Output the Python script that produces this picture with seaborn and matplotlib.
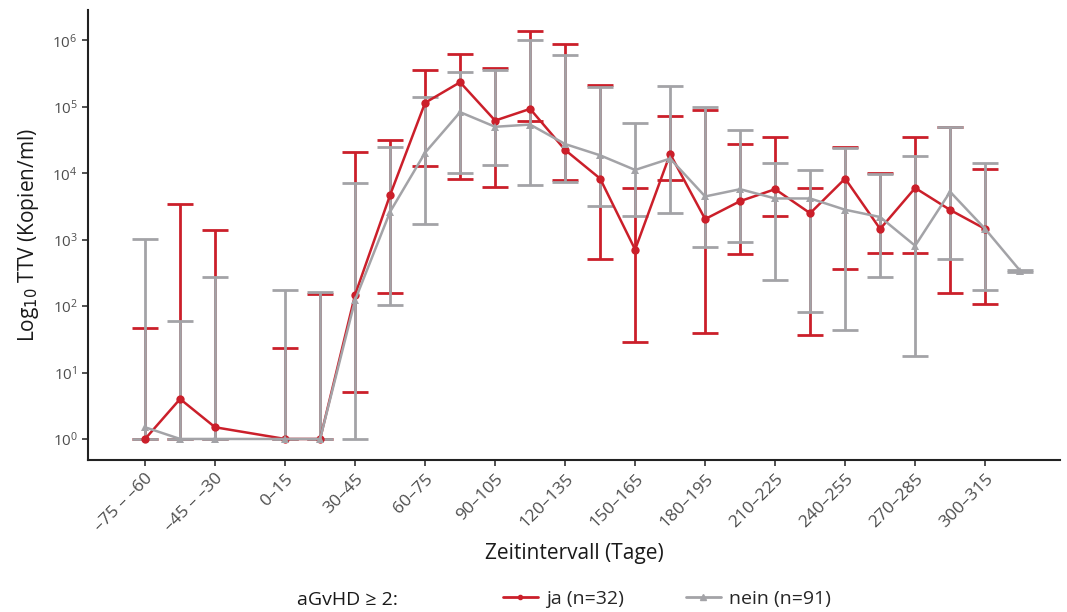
import numpy as np
import pandas as pd
import matplotlib
matplotlib.use("Agg")
import matplotlib.pyplot as plt
from matplotlib.lines import Line2D
import seaborn as sns

# --- data ---
# slot 3 of the axis is empty in the original
categories = ["–75 – –60", "–60 – –45", "–45 – –30", "–30 – 0", "0–15", "15–30", "30–45",
              "45–60", "60–75", "75–90", "90–105", "105–120", "120–135", "135–150",
              "150–165", "165–180", "180–195", "195–210", "210–225", "225–240",
              "240–255", "255–270", "270–285", "285–300", "300–315", "315–330"]
shown_ticks = categories[::2]

intervals = [c for c in categories if c != "–30 – 0"]

ja_median = [1, 4, 1.5, 1, 1, 148, 4700, 115000, 234000, 62000, 93000, 22400, 8300,
             710, 19500, 2040, 3800, 5750, 2500, 8300, 1450, 6000, 2800, 1450, np.nan]
ja_low = [1, 1, 1, 1, 1, 5.1, 160, 12900, 8300, 6300, 62000, 7900, 510,
          29, 7900, 40, 600, 2240, 37, 360, 630, 630, 160, 107, np.nan]
ja_high = [47, 3500, 1400, 23, 150, 21000, 32000, 360000, 630000, 390000, 1380000, 890000, 214000,
           5900, 72000, 89000, 27500, 35500, 6000, 25000, 10200, 35500, 50000, 11700, np.nan]

nein_median = [1.5, 1, 1, 1, 1, 123, 2630, 20400, 83000, 50000, 54000, 27500, 18600,
               11200, 16600, 4470, 5750, 4170, 4170, 2820, 2190, 810, 5250, 1450, 340]
nein_low = [1, 1, 1, 1, 1, 1, 105, 1740, 10000, 13500, 6600, 7400, 3200,
            2240, 2500, 780, 910, 250, 81, 44, 275, 18, 510, 174, 330]
nein_high = [1020, 60, 275, 174, 162, 7200, 25000, 141000, 331000, 355000, 1000000, 600000, 200000,
             57500, 209000, 100000, 44700, 14500, 11000, 24000, 9800, 18200, 50000, 14500, 345]

groups = ["ja", "nein"]
group_labels = ["ja (n=32)", "nein (n=91)"]
RED = "#CB1F2A"
GREY = "#A3A3A7"

pos = {c: i for i, c in enumerate(categories)}
rows = []
for g, med, lo, hi in [("ja", ja_median, ja_low, ja_high),
                       ("nein", nein_median, nein_low, nein_high)]:
    for c, m, l, h in zip(intervals, med, lo, hi):
        if not np.isnan(m):
            rows.append({"gruppe": g, "intervall": c, "x": pos[c], "ttv": m, "lo": l, "hi": h})
df = pd.DataFrame(rows)

sns.set_style("ticks")
plt.rcParams["font.family"] = ["Open Sans", "DejaVu Sans"]

fig = plt.figure(figsize=(10.67, 6.12), dpi=100)
ax = fig.add_axes([0.0825, 0.248, 0.911, 0.736])

colors = {"ja": RED, "nein": GREY}
# error bars first, lines on top
for g in groups:
    d = df[df["gruppe"] == g]
    ax.errorbar(d["x"], d["ttv"], yerr=[d["ttv"] - d["lo"], d["hi"] - d["ttv"]],
                fmt="none", ecolor=colors[g], elinewidth=2, capsize=9.5, capthick=2, zorder=2)

sns.lineplot(data=df, x="x", y="ttv", hue="gruppe", style="gruppe",
             palette=colors, markers={"ja": "o", "nein": "^"}, dashes=False,
             estimator=None, sort=True, linewidth=1.8, markersize=6,
             markeredgewidth=0, legend=False, ax=ax, zorder=3)

ax.set_yscale("log")
ax.set_ylim(10 ** -0.32, 10 ** 6.46)
ax.set_yticks([10 ** k for k in range(7)])
ax.minorticks_off()
ax.set_xlim(-1.63, 26.14)
ax.set_xticks([pos[c] for c in shown_ticks])
ax.set_xticklabels(shown_ticks, rotation=45, ha="right", rotation_mode="anchor")

ax.tick_params(axis="both", colors="#333333", labelcolor="#4d4d4d", labelsize=11,
               length=4, width=1.2)
ax.tick_params(axis="x", labelsize=12.5)
for s in ["left", "bottom"]:
    ax.spines[s].set_linewidth(1.5)
    ax.spines[s].set_color("#222222")
sns.despine(ax=ax)

ax.set_xlabel("Zeitintervall (Tage)", fontsize=15, color="#1a1a1a", labelpad=6)
ax.set_ylabel("Log$_{10}$ TTV (Kopien/ml)", fontsize=15, color="#1a1a1a", labelpad=8)

handles = [Line2D([], [], color=RED, marker="o", markersize=3, lw=2),
           Line2D([], [], color=GREY, marker="^", markersize=4, lw=2)]
fig.text(0.278, 0.012, "aGvHD ≥ 2:", fontsize=14, color="#1a1a1a", va="baseline")
fig.legend(handles, group_labels, loc="lower left", bbox_to_anchor=(0.455, -0.022),
           ncol=2, frameon=False, fontsize=14, handlelength=1.8, columnspacing=3.2,
           handletextpad=0.4)

fig.savefig("out.png", dpi=100)
